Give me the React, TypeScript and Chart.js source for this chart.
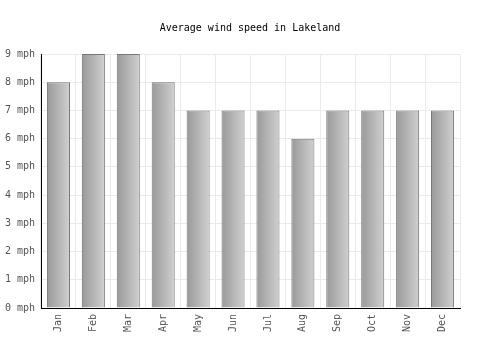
import React, { useEffect, useRef } from "react";
import { Chart, registerables } from "chart.js";

Chart.register(...registerables);

const months = ["Jan", "Feb", "Mar", "Apr", "May", "Jun", "Jul", "Aug", "Sep", "Oct", "Nov", "Dec"];
const windSpeed = [8, 9, 9, 8, 7, 7, 7, 6, 7, 7, 7, 7];
const yTicks = [0, 1, 2, 3, 4, 5, 6, 7, 8, 9];

const FONT = "'DejaVu Sans Mono', monospace";

export default function App() {
  const ref = useRef<HTMLCanvasElement>(null);
  useEffect(() => {
    if (!ref.current) return;
    const chart = new Chart(ref.current, {
      type: "bar",
      data: {
        labels: months,
        datasets: [
          {
            data: windSpeed,
            backgroundColor: (ctx: any) => {
              const c = ctx.chart;
              const xs = c.scales?.x;
              if (!c.chartArea || !xs || ctx.dataIndex === undefined) return "#b0b0b0";
              const cx = xs.getPixelForValue(ctx.dataIndex);
              const w = (c.chartArea.right - c.chartArea.left) / months.length * 0.66;
              const g = c.ctx.createLinearGradient(cx - w / 2, 0, cx + w / 2, 0);
              g.addColorStop(0, "#999999");
              g.addColorStop(1, "#d0d0d0");
              return g;
            },
            borderColor: "#777777",
            borderWidth: 1,
            barPercentage: 0.66,
            categoryPercentage: 1,
          },
        ],
      },
      options: {
        animation: false,
        responsive: false,
        layout: { padding: 0 },
        plugins: {
          legend: { display: false },
          tooltip: { enabled: false },
          title: {
            display: true,
            text: "Average wind speed in Lakeland",
            font: { family: FONT, size: 10, weight: "normal" },
            color: "#000",
            padding: { top: 22, bottom: 20 },
          },
        },
        scales: {
          x: {
            grid: { color: "#ebebeb", offset: true, drawTicks: false },
            border: { color: "#000", width: 1 },
            ticks: {
              font: { family: FONT, size: 10 },
              color: "#555",
              maxRotation: 90,
              minRotation: 90,
              padding: 6,
            },
            afterFit: (s: any) => {
              s.height = 42;
            },
          },
          y: {
            min: 0,
            max: 9,
            grid: { color: "#ebebeb", drawTicks: false },
            border: { color: "#000", width: 1 },
            afterBuildTicks: (s: any) => {
              s.ticks = yTicks.map((v) => ({ value: v }));
            },
            ticks: {
              font: { family: FONT, size: 10 },
              color: "#555",
              padding: 6,
              callback: (v: any) => v + " mph",
            },
            afterFit: (s: any) => {
              s.width = 41;
            },
          },
          yRight: {
            position: "right",
            display: true,
            grid: { display: false },
            border: { display: false },
            ticks: { display: false },
            afterFit: (s: any) => {
              s.width = 40;
            },
          },
        },
      },
    } as any);
    return () => chart.destroy();
  }, []);
  return (
    <div style={{ position: "fixed", left: 0, top: 0, width: 500, height: 350, background: "#fff" }}>
      <canvas ref={ref} width={500} height={350} />
    </div>
  );
}
